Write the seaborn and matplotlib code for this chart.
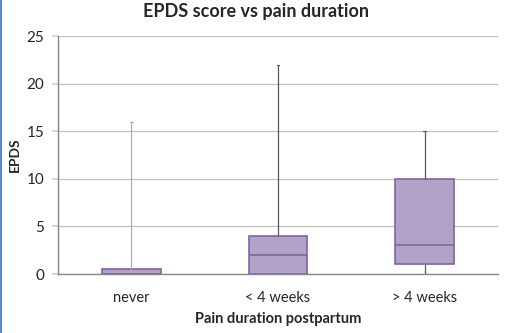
import numpy as np
import pandas as pd
import matplotlib
matplotlib.use("Agg")
import matplotlib.pyplot as plt
import seaborn as sns
from matplotlib.lines import Line2D
from matplotlib.ticker import FixedLocator

# ── Data (five-number summaries) ────────────────────────────────
GROUPS = ["never", "< 4 weeks", "> 4 weeks"]
MINS = [0, 0, 0]
Q1S = [0, 0, 1]
MEDIANS = [0, 2, 3]
Q3S = [0.5, 4, 10]
MAXS = [16, 22, 15]
Y_TICKS = [0, 5, 10, 15, 20, 25]

FILL = "#b3a2c7"
EDGE = "#8064a2"

# five points per group -> linear percentiles land exactly on min/q1/median/q3/max
rows = []
for g, a, b, c, d, e in zip(GROUPS, MINS, Q1S, MEDIANS, Q3S, MAXS):
    for v in (a, b, c, d, e):
        rows.append({"group": g, "EPDS": v})
df = pd.DataFrame(rows)

sns.set_theme(style="white")
plt.rcParams["font.family"] = ["Lato", "DejaVu Sans"]

fig = plt.figure(figsize=(5.12, 3.33), dpi=100)
ax = fig.add_axes([58 / 512, 59 / 333, 440 / 512, 238 / 333])

sns.boxplot(
    data=df, x="group", y="EPDS", order=GROUPS, ax=ax,
    whis=(0, 100), width=0.4, color=FILL, saturation=1,
    linecolor=EDGE, linewidth=1.2, showfliers=False,
    whiskerprops=dict(color="#595959", linewidth=0.9),
    capprops=dict(color="#595959", linewidth=0.9),
    capwidths=0.02,
)

# Excel left whisker is lighter for the first box
bc = ax.containers[0]
for ln in list(bc.whiskers[:2]) + list(bc.caps[:2]):
    ln.set_color("#b0b0b0")

ax.set_xlim(-0.5, 2.5)
ax.set_ylim(0, 25)
ax.set_yticks(Y_TICKS)
ax.yaxis.grid(True, color="#c0c0c0", linewidth=0.9)
ax.set_axisbelow(True)

for s in ["top", "right"]:
    ax.spines[s].set_visible(False)
ax.spines["left"].set_color("#868686")
ax.spines["bottom"].set_color("#868686")
ax.spines["left"].set_linewidth(1.0)
ax.spines["bottom"].set_linewidth(1.0)

ax.xaxis.set_minor_locator(FixedLocator([-0.5, 0.5, 1.5, 2.5]))
ax.tick_params(axis="x", which="major", length=0, pad=12, labelsize=10.5, colors="#262626")
ax.tick_params(axis="x", which="minor", length=4, color="#d0d0d0", width=1.0)
ax.tick_params(axis="y", length=4, color="#d0d0d0", pad=6, labelsize=11, colors="#262626", left=True)

ax.set_xlabel("Pain duration postpartum", fontsize=10.5, fontweight="bold", labelpad=5)
ax.set_ylabel("EPDS", fontsize=10, fontweight="bold", labelpad=4)
fig.suptitle("EPDS score vs pain duration", fontsize=13, fontweight="bold", x=0.5, y=0.99)

fig.add_artist(Line2D([0.002, 0.002], [0, 1], transform=fig.transFigure, color="#5b8bbd", linewidth=1.5))

fig.savefig("out.png", dpi=100)
